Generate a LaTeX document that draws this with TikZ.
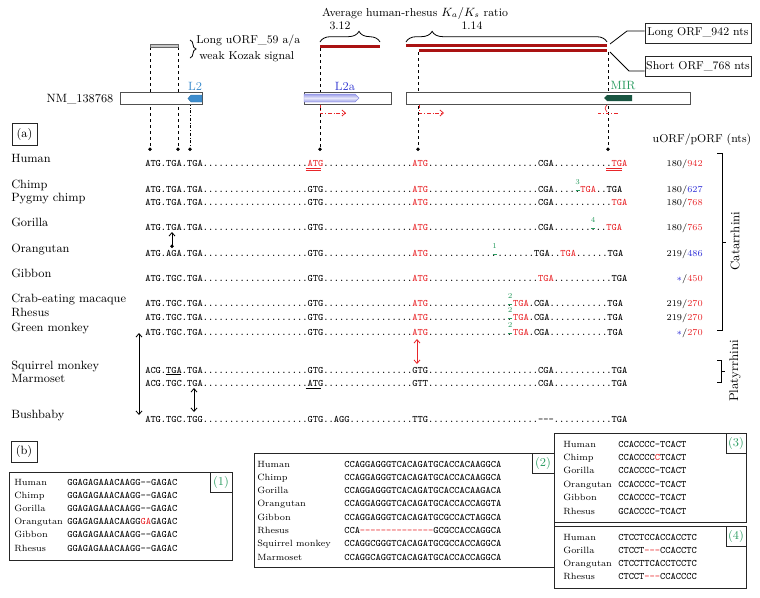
\documentclass[tikz,border=0pt]{standalone}
\usetikzlibrary{arrows.meta,decorations.pathreplacing}
\definecolor{sred}{RGB}{232,38,42}
\definecolor{bred}{RGB}{170,18,18}
\definecolor{nblue}{RGB}{45,45,215}
\definecolor{mgreen}{RGB}{40,155,95}
\definecolor{ltblue}{RGB}{60,140,205}
\definecolor{lblue}{RGB}{55,60,210}
\definecolor{mirg}{RGB}{25,85,65}
\definecolor{dgray}{RGB}{80,80,80}
\newcommand{\Rd}[1]{\textcolor{sred}{#1}}
\newcommand{\Bl}[1]{\textcolor{nblue}{#1}}
\ExplSyntaxOn
\cs_new:Npn \Dts #1 { \prg_replicate:nn {#1} {.} }
\cs_new:Npn \Hys #1 { \prg_replicate:nn {#1} { \mbox{-} } }
\ExplSyntaxOff
\tikzset{
  seqt/.style={anchor=base west,inner sep=0pt,font=\fontsize{7.4}{8}\selectfont\ttfamily},
  spl/.style={anchor=base west,inner sep=0pt,font=\fontsize{9}{10}\selectfont},
  valt/.style={anchor=base east,inner sep=0pt,font=\fontsize{6.8}{8}\selectfont},
  lbl/.style={inner sep=0pt,font=\fontsize{8.6}{10}\selectfont},
  bname/.style={anchor=base west,inner sep=0pt,font=\fontsize{6.8}{8}\selectfont},
  mk/.style={inner sep=0pt,text=mgreen,font=\fontsize{5.6}{6}\selectfont},
  tagt/.style={inner sep=0pt,text=mgreen,font=\fontsize{9}{10}\selectfont},
  genebox/.style={draw=dgray,fill=white,line width=0.6pt},
  bx/.style={draw=black!85,line width=0.6pt},
  orfbox/.style={draw=black!85,line width=0.6pt,minimum width=79.5pt,minimum height=15pt,inner sep=1pt,font=\fontsize{8.6}{10}\selectfont},
  vdash/.style={dash pattern=on 2.5pt off 2pt,line width=0.6pt,-{Circle[length=2.6pt]}},
  vdashdot/.style={dash pattern=on 2pt off 1.5pt on 0.6pt off 1.5pt,line width=0.6pt,-{Circle[length=2.6pt]}},
  rdash/.style={sred,dash pattern=on 2.5pt off 1.5pt on 0.6pt off 1.5pt,line width=0.6pt},
  tipb/.style={-{Straight Barb[length=2.6pt,width=4.5pt]}},
  darr/.style={line width=0.6pt,{Straight Barb[length=2.6pt,width=4.5pt]}-{Straight Barb[length=2.6pt,width=4.5pt]}},
  brc/.style={decorate,line width=0.6pt},
  clade/.style={line width=0.6pt},
}
% plain row: id, y, label, sequence, value
\newcommand{\SRow}[5]{%
  \node[spl] (l#1) at (11,#2-1) {#3};
  \node[seqt] (s#1) at (145,#2+3) {#4};
  \node[valt] (v#1) at (703,#2+3) {#5};}
% row with a marker: id, y, label, seq before, marker char index, seq after, value, number
\newcommand{\MRow}[8]{%
  \node[spl] (l#1) at (11,#2-1) {#3};
  \node[seqt] (s#1) at (145,#2+3) {#4};
  \node[seqt] (t#1) at ({145+(#5+1)*5.18},#2+3) {#6};
  \node[valt] (v#1) at (703,#2+3) {#7};
  \node[mk] (m#1) at ({145+(#5+0.5)*5.18},#2-7.3) {#8};
  \draw[mgreen,line width=0.5pt] ({145+(#5+0.5)*5.18-2},#2+1) -- ({145+(#5+0.5)*5.18+2},#2+1);}
\newcommand{\Ul}[4]{%
  \draw[#4,line width=0.5pt] ({145+#1*5.18},#3) -- ({145+#2*5.18},#3);}
\newcommand{\BRow}[6]{%
  \node[bname] (#1n) at (#2,#4+3) {#5};
  \node[seqt] (#1s) at (#3,#4+3) {#6};}
\begin{document}
\begin{tikzpicture}[x=0.75pt,y=-0.75pt]
\useasboundingbox (0,0) rectangle (760,597);
% ---------- top annotations
\node[lbl] (title) at (415,13) {Average human-rhesus $K_a/K_s$ ratio};
\node[lbl] (r312) at (340,26) {3.12};
\node[lbl] (r114) at (472,26) {1.14};
\draw[brc,decoration={brace,amplitude=8pt,aspect=0.65}] (320,42) -- (380,42);
\draw[brc,decoration={brace,amplitude=8pt,aspect=0.13}] (406,42) -- (607,42);
% dashed guide lines
\coordinate (g1t) at (150,47); \coordinate (g1b) at (150,151);
\coordinate (g2t) at (178,47); \coordinate (g2b) at (178,151);
\coordinate (g3t) at (190,103); \coordinate (g3b) at (190,151);
\coordinate (g4t) at (320,48); \coordinate (g4b) at (320,151);
\coordinate (g5t) at (418,52); \coordinate (g5b) at (418,151);
\coordinate (g6t) at (608,52); \coordinate (g6b) at (608,151);
\draw[vdash] (g1t) -- (g1b);
\draw[vdash] (g2t) -- (g2b);
\draw[vdashdot] (g3t) -- (g3b);
\draw[vdash] (g4t) -- (g4b);
\draw[vdash] (g5t) -- (g5b);
\draw[vdash] (g6t) -- (g6b);
% bars
\draw[fill=gray!45,draw=gray!80!black,line width=0.5pt] (150,44) rectangle (178,47);
\fill[bred] (320,45) rectangle (380,48);
\fill[bred] (406,44) rectangle (607,47);
\fill[bred] (419,49) rectangle (607,52);
% uORF bracket + text
\draw[brc,decoration={brace,amplitude=4.5pt,aspect=0.5}] (190,40) -- (190,58);
\node[lbl,anchor=west] (uorf1) at (196,41) {Long uORF\_59 a/a};
\node[lbl,anchor=west] (uorf2) at (199,57) {weak Kozak signal};
% ORF boxes
\node[orfbox] (lorf) at (698,33) {Long ORF\_942 nts};
\node[orfbox] (sorf) at (698,66) {Short ORF\_768 nts};
\coordinate (lend) at (610,44); \coordinate (lelb) at (627,31);
\coordinate (send) at (610,52); \coordinate (selb) at (629,71);
\draw[line width=0.6pt] (lend) -- (lelb) -- (lelb -| lorf.west);
\draw[line width=0.6pt] (send) -- (selb) -- (selb -| sorf.west);
% ---------- gene model
\node[inner sep=0pt,font=\fontsize{9}{10}\selectfont] (nm) at (80,99) {NM\_138768};
\draw[genebox] (120,92) rectangle (202,104);
\draw[genebox] (304,92) rectangle (391,104);
\draw[genebox] (406,92) rectangle (690,104);
\draw[draw=ltblue!80!black,fill=ltblue,line width=0.3pt] (202,95) -- (191,95) -- (188,98.5) -- (191,102) -- (202,102) -- cycle;
\draw[draw=lblue!60,top color=lblue!50,bottom color=lblue!50,middle color=lblue!12,line width=0.3pt] (304,94) -- (355,94) -- (359,98) -- (355,102) -- (304,102) -- cycle;
\fill[mirg] (632,95) -- (607,95) -- (604,98) -- (607,101) -- (632,101) -- cycle;
\node[lbl,text=ltblue,font=\fontsize{9}{10}\selectfont] (l2) at (195,86) {L2};
\node[lbl,text=lblue,font=\fontsize{9}{10}\selectfont] (l2a) at (345,86) {L2a};
\node[lbl,text=mgreen,font=\fontsize{9}{10}\selectfont] (mir) at (623,86) {MIR};
% red dash-dot arrows
\coordinate (ra1) at (320,105); \coordinate (ra2) at (320,113); \coordinate (ra3) at (346,113);
\coordinate (rb1) at (419,105); \coordinate (rb2) at (419,113); \coordinate (rb3) at (444,113);
\coordinate (rc1) at (598,113); \coordinate (rc2) at (618,113);
\draw[rdash,tipb] (ra1) -- (ra2) -- (ra3);
\draw[rdash,tipb] (rb1) -- (rb2) -- (rb3);
\draw[rdash] (rc1) -- (rc2);
\draw[sred,line width=0.5pt] (607,105) .. controls (604.5,108) .. (607,112);
% ---------- part (a)
\draw[bx] (12,123) rectangle (37,145);
\node[inner sep=0pt,font=\fontsize{9}{10}\selectfont] (pa) at (24.5,134) {(a)};
\node[lbl] (uphead) at (702,140) {uORF/pORF (nts)};
\SRow{hu}{163}{Human}{ATG.TGA.TGA\Dts{20}\Rd{ATG}\Dts{17}\Rd{ATG}\Dts{21}CGA\Dts{11}\Rd{TGA}}{180/\Rd{942}}
\MRow{ch}{189}{Chimp}{ATG.TGA.TGA\Dts{20}GTG\Dts{17}\Rd{ATG}\Dts{21}CGA\Dts{5}}{83}{\Rd{TGA}..TGA}{180/\Bl{627}}{3}
\SRow{pc}{202}{Pygmy chimp}{ATG.TGA.TGA\Dts{20}GTG\Dts{17}\Rd{ATG}\Dts{21}CGA\Dts{11}\Rd{TGA}}{180/\Rd{768}}
\MRow{go}{227}{Gorilla}{ATG.TGA.TGA\Dts{20}GTG\Dts{17}\Rd{ATG}\Dts{21}CGA\Dts{8}}{86}{..\Rd{TGA}}{180/\Rd{765}}{4}
\MRow{or}{253}{Orangutan}{ATG.AGA.TGA\Dts{20}GTG\Dts{17}\Rd{ATG}\Dts{13}}{67}{\Dts{7}TGA..\Rd{TGA}\Dts{6}TGA}{219/\Bl{486}}{1}
\SRow{gi}{278}{Gibbon}{ATG.TGC.TGA\Dts{20}GTG\Dts{17}\Rd{ATG}\Dts{21}\Rd{TGA}\Dts{11}TGA}{\Bl{$\ast$}/\Rd{450}}
\MRow{cm}{303}{Crab-eating macaque}{ATG.TGC.TGA\Dts{20}GTG\Dts{17}\Rd{ATG}\Dts{16}}{70}{\Rd{TGA}.CGA\Dts{11}TGA}{219/\Rd{270}}{2}
\MRow{rh}{317.5}{Rhesus}{ATG.TGC.TGA\Dts{20}GTG\Dts{17}\Rd{ATG}\Dts{16}}{70}{\Rd{TGA}.CGA\Dts{11}TGA}{219/\Rd{270}}{2}
\MRow{gm}{332}{Green monkey}{ATG.TGC.TGA\Dts{20}GTG\Dts{17}\Rd{ATG}\Dts{16}}{70}{\Rd{TGA}.CGA\Dts{11}TGA}{\Bl{$\ast$}/\Rd{270}}{2}
\SRow{sq}{370}{Squirrel monkey}{ACG.TGA.TGA\Dts{20}GTG\Dts{17}GTG\Dts{21}CGA\Dts{11}TGA}{}
\SRow{ma}{383}{Marmoset}{ACG.TGC.TGA\Dts{20}ATG\Dts{17}GTT\Dts{21}CGA\Dts{11}TGA}{}
\SRow{bb}{419}{Bushbaby}{ATG.TGC.TGG\Dts{20}GTG..AGG\Dts{12}TTG\Dts{21}\Hys{3}\Dts{11}TGA}{}
% underlines
\Ul{31}{34}{168.5}{sred}
\Ul{31}{34}{170.5}{sred}
\Ul{89}{92}{168.5}{sred}
\Ul{89}{92}{170.5}{sred}
\Ul{4}{7}{374.5}{black}
\Ul{31}{34}{388}{black}
% arrows
\coordinate (ga1) at (172,248); \coordinate (ga2) at (172,232);
\draw[line width=0.6pt,{Circle[length=2.6pt]}-{Straight Barb[length=2.6pt,width=4.5pt]}] (ga1) -- (ga2);
\coordinate (la1) at (139,333); \coordinate (la2) at (139,415);
\draw[darr] (la1) -- (la2);
\coordinate (mb1) at (194,388); \coordinate (mb2) at (194,412);
\draw[darr] (mb1) -- (mb2);
\coordinate (rr1) at (417,339); \coordinate (rr2) at (417,364);
\draw[darr,sred] (rr1) -- (rr2);
% clade brackets
\draw[clade] (717,153) -- (722,153) -- (722,330) -- (717,330);
\draw[clade] (722,242) -- (726,242);
\draw[clade] (717,360) -- (721,360) -- (721,382) -- (717,382);
\draw[clade] (721,371) -- (725,371);
\node[rotate=90,inner sep=0pt,font=\fontsize{9.4}{10}\selectfont] (cat) at (735,241) {Catarrhini};
\node[rotate=90,inner sep=0pt,font=\fontsize{9.4}{10}\selectfont] (pla) at (735,371) {Platyrrhini};
% ---------- part (b)
\draw[bx] (11,441) rectangle (37,462);
\node[inner sep=0pt,font=\fontsize{9}{10}\selectfont] (pb) at (24,451.5) {(b)};
% box 1
\draw[bx] (9,472) rectangle (232,560);
\draw[bx] (210,472) rectangle (232,492);
\node[tagt] (t1) at (221,482) {(1)};
\BRow{a1}{14}{67}{482}{Human}{GGAGAGAAACAAGG\Hys{2}GAGAC}
\BRow{a2}{14}{67}{495.2}{Chimp}{GGAGAGAAACAAGG\Hys{2}GAGAC}
\BRow{a3}{14}{67}{508.4}{Gorilla}{GGAGAGAAACAAGG\Hys{2}GAGAC}
\BRow{a4}{14}{67}{521.6}{Orangutan}{GGAGAGAAACAAGG\Rd{GA}GAGAC}
\BRow{a5}{14}{67}{534.8}{Gibbon}{GGAGAGAAACAAGG\Hys{2}GAGAC}
\BRow{a6}{14}{67}{548}{Rhesus}{GGAGAGAAACAAGG\Hys{2}GAGAC}
% box 2
\draw[bx] (254,453) rectangle (554,567);
\draw[bx] (532,453) rectangle (554,473);
\node[tagt] (t2) at (543,463) {(2)};
\BRow{b1}{257}{344}{464}{Human}{CCAGGAGGGTCACAGATGCACCACAAGGCA}
\BRow{b2}{257}{344}{477.3}{Chimp}{CCAGGAGGGTCACAGATGCACCACAAGGCA}
\BRow{b3}{257}{344}{490.6}{Gorilla}{CCAGGAGGGTCACAGATGCACCACAAGACA}
\BRow{b4}{257}{344}{503.9}{Orangutan}{CCAGGAGGGTCACAGATGCACCACCAGGTA}
\BRow{b5}{257}{344}{517.2}{Gibbon}{CCAGGAGGGTCACAGATGCGCCACTAGGCA}
\BRow{b6}{257}{344}{530.5}{Rhesus}{CCA\Rd{\Hys{14}}GCGCCACCAGGCA}
\BRow{b7}{257}{344}{543.8}{Squirrel monkey}{CCAGGCGGGTCACAGATGCGCCACCAGGCA}
\BRow{b8}{257}{344}{557.1}{Marmoset}{CCAGGCAGGTCACAGATGCACCACCAGGCA}
% box 3
\draw[bx] (554,433) rectangle (746,522);
\draw[bx] (726,433) rectangle (746,453);
\node[tagt] (t3) at (736,443) {(3)};
\BRow{c1}{563}{618}{444}{Human}{CCACCCC\Hys{1}TCACT}
\BRow{c2}{563}{618}{457.4}{Chimp}{CCACCCC\Rd{C}TCACT}
\BRow{c3}{563}{618}{470.8}{Gorilla}{CCACCCC\Hys{1}TCACT}
\BRow{c4}{563}{618}{484.2}{Orangutan}{CCACCCC\Hys{1}TCACT}
\BRow{c5}{563}{618}{497.6}{Gibbon}{CCACCCC\Hys{1}TCACT}
\BRow{c6}{563}{618}{511}{Rhesus}{GCACCCC\Hys{1}TCACT}
% box 4
\draw[bx] (554,526) rectangle (746,588);
\draw[bx] (726,526) rectangle (746,546);
\node[tagt] (t4) at (736,536) {(4)};
\BRow{d1}{563}{618}{537}{Human}{CTCCTCCACCACCTC}
\BRow{d2}{563}{618}{550.3}{Gorilla}{CTCCT\Rd{\Hys{3}}CCACCTC}
\BRow{d3}{563}{618}{563.6}{Orangutan}{CTCCTTCACCTCCTC}
\BRow{d4}{563}{618}{576.9}{Rhesus}{CTCCT\Rd{\Hys{3}}CCACCCC}
\end{tikzpicture}
\end{document}
